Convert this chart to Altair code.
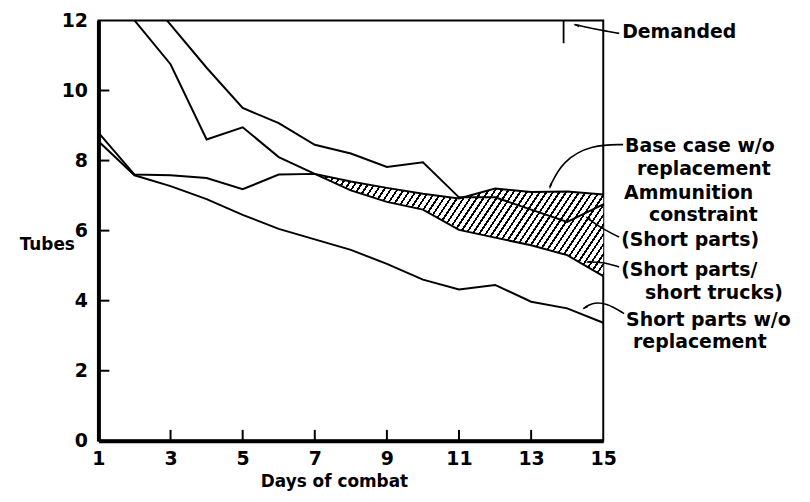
import altair as alt
import pandas as pd

# ---------------- data ----------------
days_full = list(range(1, 16))
base_case_wo_repl = [8.8, 7.6, 7.58, 7.5, 7.18, 7.6, 7.62, 7.4, 7.22, 7.05, 6.92, 7.2, 7.1, 7.12, 7.03]
short_parts_wo_repl = [8.55, 7.58, 7.27, 6.9, 6.45, 6.05, 5.75, 5.45, 5.05, 4.6, 4.32, 4.45, 3.97, 3.78, 3.37]

days_trucks = [2, 3, 4, 5, 6, 7, 8, 9, 10, 11, 12, 13, 14, 15]
short_parts_trucks = [12.0, 10.75, 8.6, 8.95, 8.1, 7.62, 7.15, 6.82, 6.6, 6.02, 5.8, 5.58, 5.3, 4.7]

days_parts = [2.9, 4, 5, 6, 7, 8, 9, 10, 11, 12, 13, 14, 15]
short_parts = [12.0, 10.65, 9.5, 9.07, 8.45, 8.2, 7.82, 7.95, 6.95, 6.95, 6.6, 6.25, 6.75]

demanded_day = 13.9
demanded_from = 11.35
demanded_to = 12.0

x_tick_labels = [1, 3, 5, 7, 9, 11, 13, 15]
y_tick_labels = [0, 2, 4, 6, 8, 10, 12]
x_inner_ticks = [3, 5, 7, 9, 11, 13]
y_inner_ticks = [2, 4, 6, 8, 10]

# ---------------- layout / style ----------------
PAD_L, PAD_T = 91, 11
PLOT_W, PLOT_H = 508, 423
X0, Y0 = 8 + PAD_L, 8 + PAD_T   # page position of plot origin (annotation layout)
FONT = "DejaVu Sans"
INK = "black"

xs = alt.Scale(domain=[1, 15], nice=False, zero=False)
ys = alt.Scale(domain=[0, 12], nice=False, zero=True)

x_axis = alt.Axis(
    values=x_tick_labels, title="Days of combat", ticks=False, grid=False,
    labelPadding=9, labelFlush=False, labelOverlap=False,
    domainColor=INK, domainWidth=4,
    titleX=237, titleY=46, titleAlign="center", titleBaseline="alphabetic",
)
y_axis = alt.Axis(
    values=y_tick_labels, title="Tubes", ticks=False, grid=False,
    labelPadding=11, labelFlush=False, labelOverlap=False,
    domainColor=INK, domainWidth=4,
    titleAngle=0, titleX=-52, titleY=244 - Y0, titleAlign="center",
    titleBaseline="middle",
)

# series table
rows = []
for d, v in zip(days_full, base_case_wo_repl):
    rows.append({"day": d, "tubes": v, "series": "Base case w/o replacement"})
for d, v in zip(days_full, short_parts_wo_repl):
    rows.append({"day": d, "tubes": v, "series": "Short parts w/o replacement"})
for d, v in zip(days_trucks, short_parts_trucks):
    rows.append({"day": d, "tubes": v, "series": "Short parts/short trucks"})
for d, v in zip(days_parts, short_parts):
    rows.append({"day": d, "tubes": v, "series": "Short parts"})
lines_df = pd.DataFrame(rows)

# hatched band (ammunition constraint) between base case and short parts/short trucks
hatch_days = [d for d in days_full if d >= 7]
hatch_top = [base_case_wo_repl[days_full.index(d)] for d in hatch_days]
hatch_bot = [short_parts_trucks[days_trucks.index(d)] for d in hatch_days]
hatch_df = pd.DataFrame({"day": hatch_days, "tubes": hatch_top, "bot": hatch_bot})

# stripe fill built as a hard-stop linear gradient (pure styling)
W = (max(hatch_days) - min(hatch_days)) / 14 * PLOT_W
H = (max(hatch_top) - min(hatch_bot)) / 12 * PLOT_H
k, P, f = 1.5, 6.6, 0.33
r = H / (k * W)
a = (1 + r) / (1 + r * r)
dt = (P / W) / (1 + r)
stops = []
i = 0
while i * dt < 1:
    t0 = i * dt
    t1 = min(t0 + f * dt, 1.0)
    t2 = min((i + 1) * dt, 1.0)
    stops += [(t0, INK), (t1, INK), (t1, "white"), (t2, "white")]
    i += 1
gradient = alt.LinearGradient(
    gradient="linear",
    stops=[alt.GradientStop(color=c, offset=round(o, 5)) for o, c in stops],
    x1=0, y1=0, x2=a, y2=a * r,
)

hatch = alt.Chart(hatch_df).mark_area(fill=gradient).encode(
    x=alt.X("day:Q", scale=xs, axis=x_axis),
    y=alt.Y("tubes:Q", scale=ys, axis=y_axis),
    y2="bot:Q",
)

lines = alt.Chart(lines_df).mark_line(color=INK, strokeWidth=2).encode(
    x=alt.X("day:Q", scale=xs, axis=x_axis),
    y=alt.Y("tubes:Q", scale=ys, axis=y_axis),
    detail="series:N",
)

demand_df = pd.DataFrame({"day": [demanded_day], "tubes": [demanded_from], "hi": [demanded_to]})
demand = alt.Chart(demand_df).mark_rule(color=INK, strokeWidth=1.8).encode(
    x=alt.X("day:Q", scale=xs, axis=x_axis),
    y=alt.Y("tubes:Q", scale=ys, axis=y_axis), y2="hi:Q"
)

ytick = alt.Chart(pd.DataFrame({"tubes": y_inner_ticks})).mark_rule(color=INK, strokeWidth=2).encode(
    y=alt.Y("tubes:Q", scale=ys, axis=y_axis), x=alt.value(0), x2=alt.value(11)
)
xtick = alt.Chart(pd.DataFrame({"day": x_inner_ticks})).mark_rule(color=INK, strokeWidth=2).encode(
    x=alt.X("day:Q", scale=xs, axis=x_axis), y=alt.value(PLOT_H), y2=alt.value(PLOT_H - 11)
)

# annotation text (page layout positions)
label_lines = ["Demanded", "Base case w/o", "replacement", "Ammunition", "constraint",
               "(Short parts)", "(Short parts/", "short trucks)", "Short parts w/o", "replacement"]
label_pos = [(626, 31), (629, 145), (641, 169), (628, 193), (653, 215),
             (625, 240), (625, 270), (649, 293), (630, 320), (637, 343)]
labels_df = pd.DataFrame({
    "text": label_lines,
    "px": [p[0] - X0 for p in label_pos],
    "py": [p[1] - Y0 for p in label_pos],
})
labels = alt.Chart(labels_df).mark_text(
    font=FONT, fontSize=19, fontWeight="bold", align="left", baseline="middle", color=INK
).encode(
    x=alt.X("px:Q", scale=None, axis=None),
    y=alt.Y("py:Q", scale=None, axis=None),
    text="text:N",
)

leader_paths = {
    "demanded": [(623, 32), (600, 28), (578, 23)],
    "base": [(627, 144), (596, 144), (566, 160), (553, 187)],
    "parts": [(623, 237), (605, 228), (590, 217)],
    "trucks": [(623, 267), (606, 262), (591, 262)],
    "wo": [(628, 314), (610, 303), (595, 303), (587, 309)],
}
arrow_tips = [(577, 23, 285), (553, 189, 195), (589, 216, 307), (589, 262, 270), (586, 310, 236)]

lrows = []
for key, pts in leader_paths.items():
    for j, (px, py) in enumerate(pts):
        lrows.append({"id": key, "o": j, "px": px - X0, "py": py - Y0})
leaders = alt.Chart(pd.DataFrame(lrows)).mark_line(
    color=INK, strokeWidth=1.6, interpolate="basis"
).encode(
    x=alt.X("px:Q", scale=None, axis=None),
    y=alt.Y("py:Q", scale=None, axis=None),
    detail="id:N",
    order="o:Q",
)
arrows_df = pd.DataFrame({
    "px": [t[0] - X0 for t in arrow_tips],
    "py": [t[1] - Y0 for t in arrow_tips],
    "ang": [t[2] for t in arrow_tips],
})
arrows = alt.Chart(arrows_df).mark_point(
    shape="M0,0L-0.45,2.2L0.45,2.2Z", filled=True, size=30, color=INK, opacity=1
).encode(
    x=alt.X("px:Q", scale=None, axis=None),
    y=alt.Y("py:Q", scale=None, axis=None),
    angle=alt.Angle("ang:Q", scale=None),
)

chart = alt.layer(hatch, lines, demand, ytick, xtick, leaders, arrows, labels).properties(
    width=PLOT_W, height=PLOT_H,
    autosize=alt.AutoSizeParams(type="none"),
    padding={"left": PAD_L, "top": PAD_T, "right": 200, "bottom": 50},
    background="white",
).configure_view(
    stroke=INK, strokeWidth=2
).configure_axis(
    labelFont=FONT, labelFontSize=19, labelFontWeight="bold", labelColor=INK,
    titleFont=FONT, titleFontSize=17, titleFontWeight="bold", titleColor=INK,
)

chart.save("out.html", embed_options={"renderer": "svg", "actions": False})
